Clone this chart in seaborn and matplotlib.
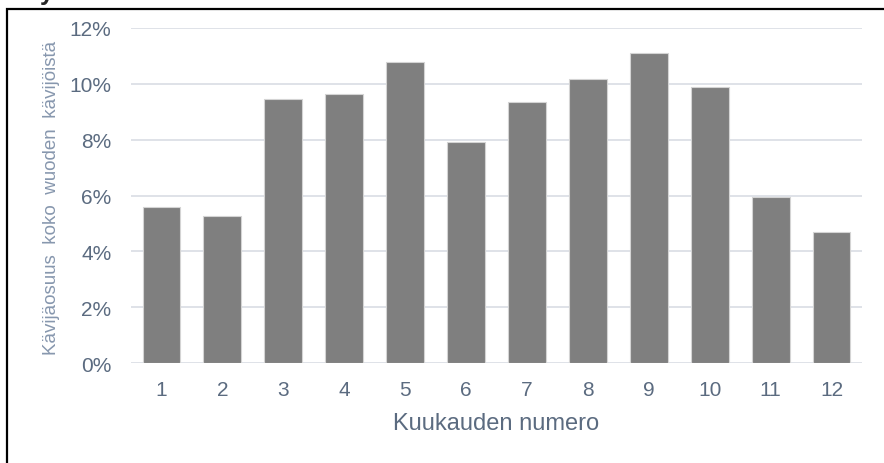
import matplotlib
matplotlib.use("Agg")
import matplotlib.pyplot as plt
import seaborn as sns
import pandas as pd
from matplotlib.patches import Rectangle
from matplotlib.ticker import FuncFormatter

# share of the whole year's visitors per month (%)
months = ["1", "2", "3", "4", "5", "6", "7", "8", "9", "10", "11", "12"]
share_pct = [5.59, 5.25, 9.46, 9.63, 10.76, 7.90, 9.34, 10.18, 11.11, 9.88, 5.93, 4.68]
y_ticks = [0, 2, 4, 6, 8, 10, 12]

x_title = "Kuukauden numero"
y_title = "Kävijäosuus  koko  wuoden  kävijöistä"

sns.set_style("white")
plt.rcParams["font.family"] = ["Liberation Sans", "DejaVu Sans"]

df = pd.DataFrame({"month": months, "share": share_pct})

fig = plt.figure(figsize=(8.84, 4.64), dpi=100)
ax = fig.add_axes([131 / 884, 1 - 364.3 / 464, 731 / 884, 335.6 / 464])

sns.barplot(data=df, x="month", y="share", color="#7f7f7f", saturation=1,
            width=0.62, edgecolor="#d4d4d4", linewidth=0.8, ax=ax)

ax.set_ylim(0, 12)
ax.set_xlim(-0.5, len(months) - 0.5)
ax.set_yticks(y_ticks)
ax.yaxis.set_major_formatter(FuncFormatter(lambda v, p: f"{v:.0f}%"))
ax.grid(axis="y", color="#d9dde4", linewidth=1.2)
ax.set_axisbelow(True)
for s in ax.spines.values():
    s.set_visible(False)

tick_col = "#5b6b80"
ax.tick_params(axis="both", length=0, labelsize=15, labelcolor=tick_col)
ax.tick_params(axis="y", pad=14)
ax.tick_params(axis="x", pad=12)

ax.set_xlabel(x_title, fontsize=17, color=tick_col)
ax.set_ylabel(y_title, fontsize=13.5, color="#8797ae")
ax.xaxis.set_label_coords(0.5, -0.145)
ax.yaxis.set_label_coords(-0.097, 0.495)

# frame around the whole chart, open to the right and bottom
fig.patches.append(Rectangle((7 / 884, -0.1), 1.2, 1 - 10 / 464 + 0.1,
                             transform=fig.transFigure, fill=False,
                             edgecolor="black", linewidth=1.6, clip_on=False))
# clipped descender from the text above
fig.text(40 / 884, 1.0, "y", fontsize=18, fontweight="bold", va="baseline", ha="left")

fig.savefig("out.png", dpi=100)
